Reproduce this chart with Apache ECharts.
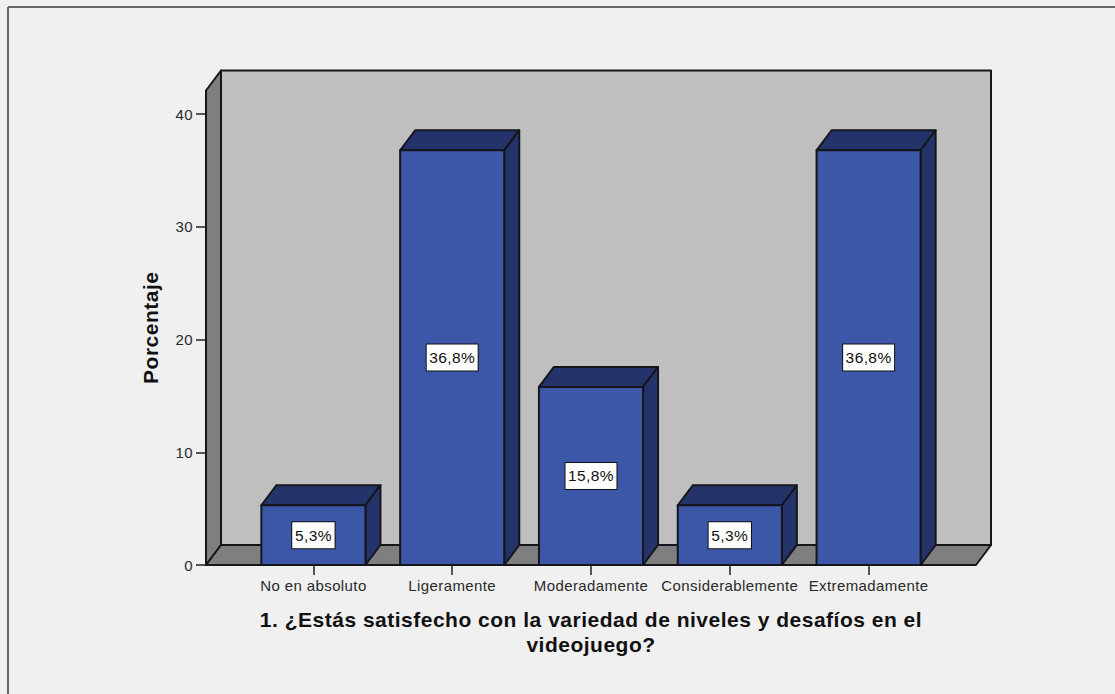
<!DOCTYPE html>
<html><head><meta charset="utf-8">
<style>
html,body{margin:0;padding:0;background:#f0f0f0}
#c{width:1115px;height:694px}
#c svg text{letter-spacing:.4px}
#c svg text[style*="bold"]{letter-spacing:.5px}
</style>
<script src="https://cdn.jsdelivr.net/npm/echarts@6/dist/echarts.min.js"></script>
</head><body><div id="c"></div>
<script>
const categories = ['No en absoluto','Ligeramente','Moderadamente','Considerablemente','Extremadamente'];
const percentages = [5.3,36.8,15.8,5.3,36.8];
const yTicks = [0,10,20,30,40];
const xTitle = '1. ¿Estás satisfecho con la variedad de niveles y desafíos en el\nvideojuego?';
const yTitle = 'Porcentaje';

const DEPTH_X = 15, DEPTH_Y = 20, MARGIN = 38;
const EDGE = '#15151c', EDGE_W = 2;
const FONT = '"Liberation Sans", Arial, sans-serif';

function poly(points, fill){
  return {type:'polygon', shape:{points}, style:{fill, stroke:EDGE, lineWidth:EDGE_W, lineJoin:'round'}};
}
function renderWalls(params){
  const c = params.coordSys;
  const l = c.x - MARGIN, r = c.x + c.width + MARGIN, t = c.y, b = c.y + c.height;
  return {type:'group', children:[
    poly([[l+DEPTH_X,t-DEPTH_Y],[r+DEPTH_X,t-DEPTH_Y],[r+DEPTH_X,b-DEPTH_Y],[l+DEPTH_X,b-DEPTH_Y]], '#bfbfbf'),
    poly([[l,t],[l+DEPTH_X,t-DEPTH_Y],[l+DEPTH_X,b-DEPTH_Y],[l,b]], '#7f7f7f'),
    poly([[l,b],[l+DEPTH_X,b-DEPTH_Y],[r+DEPTH_X,b-DEPTH_Y],[r,b]], '#7f7f7f')
  ]};
}
function renderBar(params, api){
  const val = api.value(1);
  const top = api.coord([api.value(0), val]);
  const base = api.coord([api.value(0), 0]);
  const w = api.size([1,0])[0] * 0.75;
  const l = top[0]-w/2, r = top[0]+w/2, t = top[1], b = base[1];
  return {type:'group', children:[
    poly([[l,t],[l+DEPTH_X,t-DEPTH_Y],[r+DEPTH_X,t-DEPTH_Y],[r,t]], '#25336b'),
    poly([[r,t],[r+DEPTH_X,t-DEPTH_Y],[r+DEPTH_X,b-DEPTH_Y],[r,b]], '#25336b'),
    poly([[l,t],[r,t],[r,b],[l,b]], '#3c56a8'),
    {type:'text', style:{
      text: String(val).replace('.',',') + '%',
      x: top[0], y: (t+b)/2, align:'center', verticalAlign:'middle',
      font: '15.5px ' + FONT, fill:'#111',
      backgroundColor:'#fff', borderColor:'#111', borderWidth:1, padding:[5,3.5,5,3.5]
    }}
  ]};
}

const chart = echarts.init(document.getElementById('c'), null, {renderer:'svg'});
chart.setOption({
  backgroundColor:'#f0f0f0',
  animation:false,
  graphic:[
    {type:'line', shape:{x1:8,y1:7,x2:1115,y2:7}, style:{stroke:'#666',lineWidth:2}},
    {type:'line', shape:{x1:8,y1:7,x2:8,y2:694}, style:{stroke:'#666',lineWidth:2}}
  ],
  grid:{left:244, top:90.5, width:694, height:474.5},
  xAxis:{
    type:'category', data:categories, boundaryGap:true,
    axisLine:{show:false},
    axisTick:{show:true, alignWithLabel:true, length:10, lineStyle:{color:'#222',width:1.5}},
    axisLabel:{show:true, interval:0, color:'#2a2a2a', fontFamily:FONT, fontSize:15, margin:13},
    name:xTitle, nameLocation:'middle', nameGap:42,
    nameTextStyle:{fontFamily:FONT, fontWeight:'bold', fontSize:21, color:'#111', lineHeight:25}
  },
  yAxis:{
    type:'value', min:0, max:42.1, offset:MARGIN,
    axisLine:{show:false}, splitLine:{show:false},
    axisTick:{show:true, length:10, customValues:yTicks, lineStyle:{color:'#222',width:1.5}},
    axisLabel:{show:true, customValues:yTicks, color:'#2a2a2a', fontFamily:FONT, fontSize:15, margin:13},
    name:yTitle, nameLocation:'middle', nameGap:45,
    nameTextStyle:{fontFamily:FONT, fontWeight:'bold', fontSize:21, color:'#111'}
  },
  series:[
    {type:'custom', silent:true, clip:false, z:1, renderItem:renderWalls, data:[[0,0]], encode:{x:0,y:1}},
    {type:'custom', clip:false, z:2, renderItem:renderBar, encode:{x:0,y:1},
     data:categories.map((c,i)=>[i,percentages[i]])}
  ]
});
</script></body></html>
